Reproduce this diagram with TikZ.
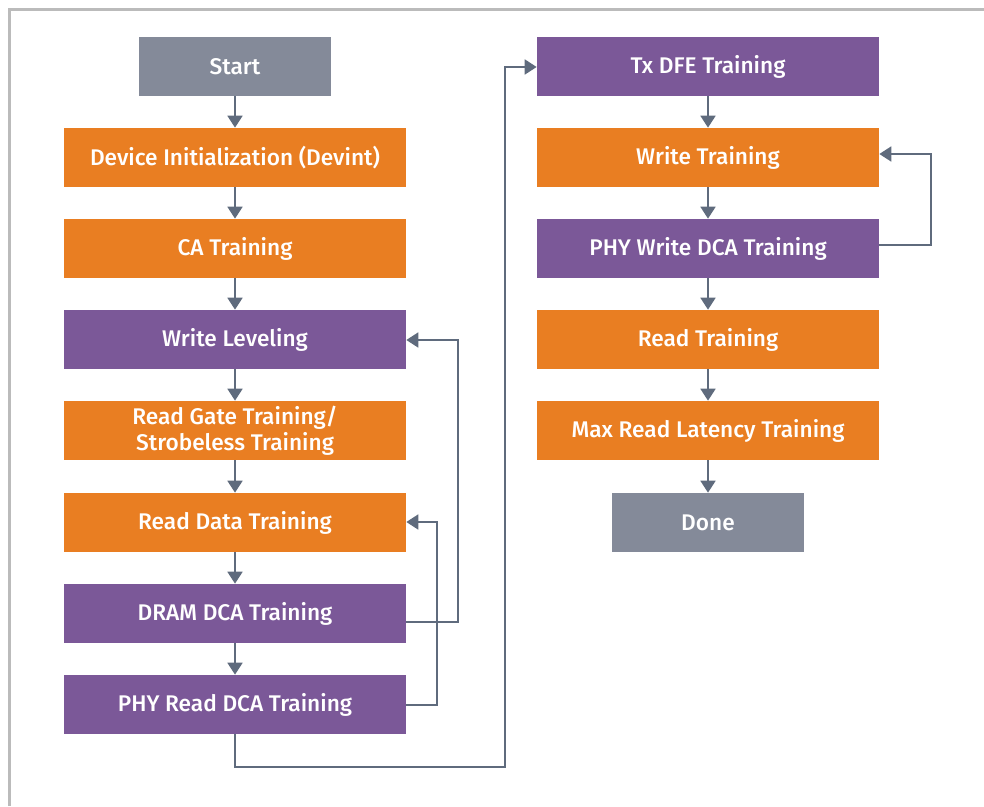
\documentclass[tikz,border=0pt]{standalone}
\usepackage{fontspec}
\setmainfont{Fira Sans}[UprightFont={* Medium}]
\usetikzlibrary{arrows.meta}
\definecolor{orangeC}{HTML}{E97E22}
\definecolor{purpleC}{HTML}{7B5898}
\definecolor{grayC}{HTML}{848A99}
\definecolor{lineC}{HTML}{5F6B7D}
\definecolor{frameC}{HTML}{BBBBBB}
\tikzset{
  box/.style={rectangle, inner sep=0pt, minimum width=256.5pt, minimum height=44.25pt,
    text=white, align=center, font=\fontsize{17}{19.5}\selectfont},
  obox/.style={box, fill=orangeC},
  pbox/.style={box, fill=purpleC},
  gbox/.style={box, fill=grayC, minimum width=144.5pt},
  conn/.style={draw=lineC, line width=2pt, -{Triangle[length=9pt,width=11pt]}},
}
\begin{document}
\begin{tikzpicture}[x=0.75pt,y=-0.75pt]
\useasboundingbox (0,0) rectangle (984,806);
\draw[frameC, line width=2.25pt] (9.5,806) |- (984,9.5);
% left column
\node[gbox] (start) at (235,66.5) {Start};
\node[obox] (dev) at (235,157.5) {Device Initialization (Devint)};
\node[obox] (ca) at (235,248.5) {CA Training};
\node[pbox] (wl) at (235,339.5) {Write Leveling};
\node[obox] (rg) at (235,430.5) {Read Gate Training/\\Strobeless Training};
\node[obox] (rd) at (235,522.5) {Read Data Training};
\node[pbox] (dram) at (235,613.5) {DRAM DCA Training};
\node[pbox] (phyr) at (235,704.5) {PHY Read DCA Training};
% right column
\node[pbox] (tx) at (708,66.5) {Tx DFE Training};
\node[obox] (wt) at (708,157.5) {Write Training};
\node[pbox] (phyw) at (708,248.5) {PHY Write DCA Training};
\node[obox] (rt) at (708,339.5) {Read Training};
\node[obox] (mrl) at (708,430.5) {Max Read Latency Training};
\node[gbox] (done) at (708,522.5) {Done};
% connectors
\draw[conn] (start) -- (dev);
\draw[conn] (dev) -- (ca);
\draw[conn] (ca) -- (wl);
\draw[conn] (wl) -- (rg);
\draw[conn] (rg) -- (rd);
\draw[conn] (rd) -- (dram);
\draw[conn] (dram) -- (phyr);
\draw[conn] (tx) -- (wt);
\draw[conn] (wt) -- (phyw);
\draw[conn] (phyw) -- (rt);
\draw[conn] (rt) -- (mrl);
\draw[conn] (mrl) -- (done);
% feedback loops
\draw[conn] (dram.east |- 0,622) -- (458,622) -- (458,340) -- (wl.east |- 0,340);
\draw[conn] (phyr.east |- 0,705) -- (437,705) -- (437,522) -- (rd.east |- 0,522);
\draw[conn] (phyw.east |- 0,245) -- (931,245) -- (931,154) -- (wt.east |- 0,154);
\draw[conn] (phyr.south) -- (235,767) -- (505,767) -- (505,67) -- (tx.west |- 0,67);
\end{tikzpicture}
\end{document}
